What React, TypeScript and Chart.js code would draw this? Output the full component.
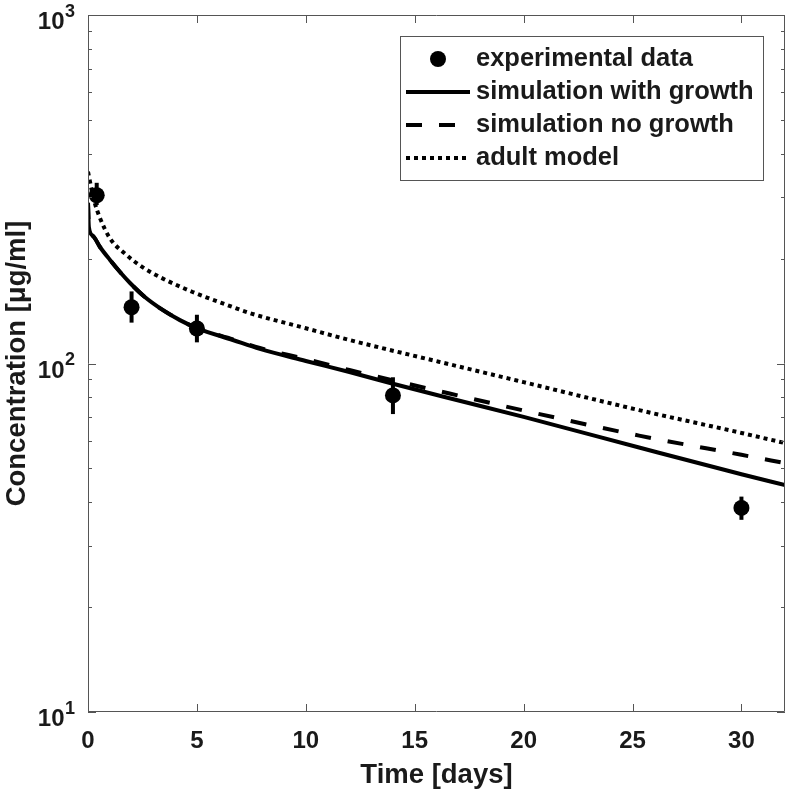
import React, { useEffect, useRef } from 'react';
import { Chart, registerables } from 'chart.js';

Chart.register(...registerables);

// ---------- data ----------
const seriesNames = ['experimental data', 'simulation with growth', 'simulation no growth', 'adult model'];

const timeExp = [0.4, 2, 5, 14, 30];
const concExp = [304, 145, 126, 81, 38.5];
const concExpLow = [285, 131, 115, 71.6, 35.6];
const concExpHigh = [330, 161, 138, 91.3, 41.5];

const timeGrowth = [0, 0.04, 0.23, 0.55, 1.01, 1.47, 1.93, 2.61, 3.3, 4.22, 5, 6.65, 7.89, 10, 12, 14, 16.6, 20, 25.3, 30, 32];
const concGrowth = [289, 246.4, 232.2, 215.9, 198.2, 183, 170.2, 155.1, 144.2, 133.2, 126.4, 116.8, 110.1, 101.7, 94.5, 87.5, 79.5, 70.3, 57.4, 48.1, 44.8];

const timeNoGrowth = [0, 0.04, 0.23, 0.55, 1.01, 1.47, 1.93, 2.61, 3.3, 4.22, 5, 6.65, 7.89, 10, 12, 16.6, 20, 25.3, 30, 32];
const concNoGrowth = [289, 246.4, 232.2, 215.9, 198.2, 183, 170.2, 155.1, 144.2, 133.2, 126.4, 117.3, 110.8, 103, 95.8, 82.0, 73.3, 62.1, 54.7, 51.8];

const timeAdult = [0, 0.15, 0.3, 0.55, 1, 1.76, 2.5, 3.3, 4.8, 6.4, 7.5, 10, 12, 16.1, 20, 25.3, 30, 32];
const concAdult = [355, 319, 290.6, 261.6, 229, 205, 189, 177, 160.4, 147.1, 139.1, 126.2, 116.8, 101.2, 88.4, 73.5, 63.2, 59.1];

const xTicks = [0, 5, 10, 15, 20, 25, 30];
const xMin = 0;
const xMax = 32;
const yTicks = [10, 20, 30, 40, 50, 60, 70, 80, 90, 100, 200, 300, 400, 500, 600, 700, 800, 900, 1000];
const yMajor = [10, 100, 1000];
const yLabelBase = ['10', '10', '10'];
const yLabelExp = ['1', '2', '3'];

const xTitle = 'Time [days]';
const yTitle = 'Concentration [μg/ml]';

// ---------- style ----------
const FONT = "'Liberation Sans', Arial, Helvetica, sans-serif";
const TEXT = '#1a1a1a';
const AXIS = '#555555';

const zip = (xs: number[], ys: number[]) => xs.map((x, i) => ({ x, y: ys[i] }));

const errorBarPlugin = {
  id: 'errorBars',
  beforeDatasetsDraw(chart: any) {
    const { ctx, scales } = chart;
    ctx.save();
    ctx.strokeStyle = '#000';
    ctx.lineWidth = 4;
    ctx.lineCap = 'butt';
    for (let i = 0; i < timeExp.length; i++) {
      const px = scales.x.getPixelForValue(timeExp[i]);
      ctx.beginPath();
      ctx.moveTo(px, scales.y.getPixelForValue(concExpLow[i]));
      ctx.lineTo(px, scales.y.getPixelForValue(concExpHigh[i]));
      ctx.stroke();
    }
    ctx.restore();
  },
};

const boxTicksPlugin = {
  id: 'boxTicks',
  afterDatasetsDraw(chart: any) {
    const { ctx, chartArea, scales } = chart;
    const { left, right, top, bottom } = chartArea;
    ctx.save();
    ctx.strokeStyle = AXIS;
    ctx.lineWidth = 1;
    ctx.beginPath();
    ctx.rect(left + 0.5, top + 0.5, right - left - 1, bottom - top - 1);
    for (const v of xTicks) {
      const px = Math.round(scales.x.getPixelForValue(v)) + 0.5;
      ctx.moveTo(px, bottom);
      ctx.lineTo(px, bottom - 8);
      ctx.moveTo(px, top);
      ctx.lineTo(px, top + 8);
    }
    for (const v of yTicks) {
      const py = Math.round(scales.y.getPixelForValue(v)) + 0.5;
      const len = yMajor.includes(v) ? 8 : 4;
      ctx.moveTo(left, py);
      ctx.lineTo(left + len, py);
      ctx.moveTo(right, py);
      ctx.lineTo(right - len, py);
    }
    ctx.stroke();

    // y tick labels with superscript exponent
    ctx.fillStyle = TEXT;
    ctx.textBaseline = 'alphabetic';
    yMajor.forEach((v, i) => {
      const py = scales.y.getPixelForValue(v);
      ctx.font = `bold 24px ${FONT}`;
      ctx.textAlign = 'right';
      ctx.fillText(yLabelBase[i], left - 23.5, py + 14);
      ctx.font = `bold 18px ${FONT}`;
      ctx.textAlign = 'left';
      ctx.fillText(yLabelExp[i], left - 23, py + 1.5);
    });
    ctx.restore();
  },
};

const legendPlugin = {
  id: 'customLegend',
  afterDraw(chart: any) {
    const ctx = chart.ctx;
    const bx = 400, by = 36, bw = 363, bh = 144;
    const rows = [59, 92, 125, 158];
    const sx0 = 406, sx1 = 470, tx = 476;
    ctx.save();
    ctx.fillStyle = '#fff';
    ctx.fillRect(bx, by, bw, bh);
    ctx.strokeStyle = AXIS;
    ctx.lineWidth = 1;
    ctx.strokeRect(bx + 0.5, by + 0.5, bw, bh);

    ctx.fillStyle = '#000';
    ctx.beginPath();
    ctx.arc((sx0 + sx1) / 2, rows[0], 8, 0, Math.PI * 2);
    ctx.fill();

    const dashes = [[], [16, 17], [4, 4]];
    for (let k = 0; k < 3; k++) {
      ctx.strokeStyle = '#000';
      ctx.lineWidth = 4;
      ctx.lineCap = 'butt';
      ctx.setLineDash(dashes[k]);
      ctx.beginPath();
      ctx.moveTo(sx0, rows[k + 1]);
      ctx.lineTo(sx1, rows[k + 1]);
      ctx.stroke();
    }
    ctx.setLineDash([]);
    ctx.fillStyle = TEXT;
    ctx.font = `bold 25.5px ${FONT}`;
    ctx.textAlign = 'left';
    ctx.textBaseline = 'middle';
    seriesNames.forEach((name, i) => ctx.fillText(name, tx, rows[i]));
    ctx.restore();
  },
};

export default function App() {
  const canvasRef = useRef<HTMLCanvasElement | null>(null);

  useEffect(() => {
    if (!canvasRef.current) return;
    const lineBase = {
      type: 'line' as const,
      pointRadius: 0,
      borderWidth: 4,
      borderColor: '#000',
      backgroundColor: '#000',
      borderCapStyle: 'butt' as const,
      cubicInterpolationMode: 'monotone' as const,
      fill: false,
    };
    const chart = new Chart(canvasRef.current, {
      type: 'line',
      data: {
        datasets: [
          {
            ...lineBase,
            label: seriesNames[3],
            data: zip(timeAdult, concAdult),
            borderDash: [4, 4],
          },
          {
            ...lineBase,
            label: seriesNames[2],
            data: zip(timeNoGrowth, concNoGrowth),
            borderDash: [16, 17],
          },
          {
            ...lineBase,
            label: seriesNames[1],
            data: zip(timeGrowth, concGrowth),
          },
          {
            type: 'scatter' as const,
            label: seriesNames[0],
            data: zip(timeExp, concExp),
            pointRadius: 8,
            pointHoverRadius: 8,
            backgroundColor: '#000',
            borderColor: '#000',
            borderWidth: 0,
            showLine: false,
          } as any,
        ],
      },
      options: {
        responsive: false,
        animation: false,
        devicePixelRatio: 1,
        layout: { autoPadding: false, padding: { top: 15, right: 2, left: 0, bottom: 0 } },
        plugins: {
          legend: { display: false },
          tooltip: { enabled: false },
        },
        scales: {
          x: {
            type: 'linear',
            min: xMin,
            max: xMax,
            grid: { display: false, drawTicks: false },
            border: { display: false },
            afterBuildTicks: (scale: any) => {
              scale.ticks = xTicks.map((value) => ({ value }));
            },
            afterFit: (scale: any) => {
              scale.height = 79;
              scale.paddingLeft = 0;
              scale.paddingRight = 0;
            },
            ticks: {
              autoSkip: false,
              maxRotation: 0,
              padding: 15,
              color: TEXT,
              font: { family: FONT, size: 24, weight: 'bold' },
              callback: (v: any) => String(v),
            },
            title: {
              display: true,
              text: xTitle,
              color: TEXT,
              font: { family: FONT, size: 27.5, weight: 'bold', lineHeight: 1.1 },
              padding: { top: 0, bottom: 0 },
            },
          },
          y: {
            type: 'logarithmic',
            min: 10,
            max: 1000,
            grid: { display: false, drawTicks: false },
            border: { display: false },
            afterBuildTicks: (scale: any) => {
              scale.ticks = yTicks.map((value) => ({ value, major: yMajor.includes(value) }));
            },
            afterFit: (scale: any) => {
              scale.width = 88;
              scale.paddingTop = 0;
              scale.paddingBottom = 0;
            },
            ticks: {
              display: false,
            },
            title: {
              display: true,
              text: yTitle,
              color: TEXT,
              font: { family: FONT, size: 27.5, weight: 'bold', lineHeight: 1.1 },
              padding: { top: 2, bottom: 0 },
            },
          },
        },
      } as any,
      plugins: [errorBarPlugin, boxTicksPlugin, legendPlugin],
    });
    return () => chart.destroy();
  }, []);

  return (
    <div style={{ position: 'absolute', left: 0, top: 0, width: 787, height: 791, background: '#fff' }}>
      <canvas ref={canvasRef} width={787} height={791} style={{ display: 'block' }} />
    </div>
  );
}
